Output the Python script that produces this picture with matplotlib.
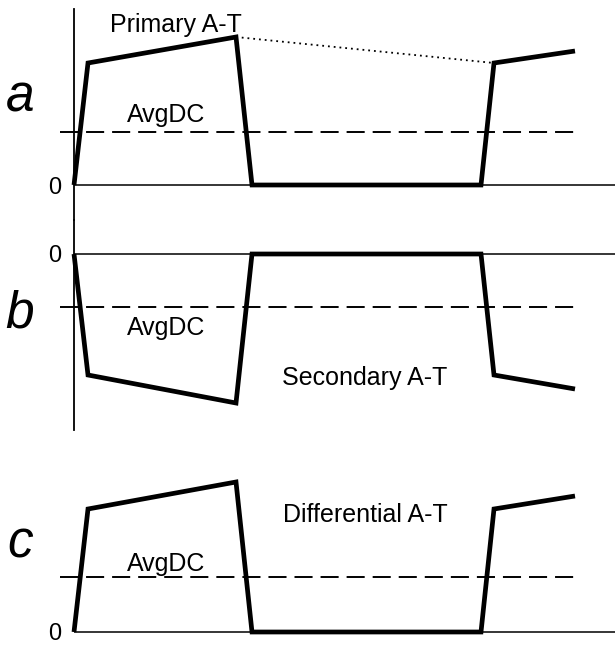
import matplotlib
matplotlib.use("Agg")
import matplotlib.pyplot as plt

plt.rcParams['font.family'] = ['Liberation Sans', 'DejaVu Sans']

# ---- data (arbitrary time units / amplitude units) ----
t = [0, 1.4, 16.2, 17.8, 40.7, 42.0, 50.1]
primary = [0, 1.22, 1.48, 0, 0, 1.22, 1.34]
secondary = [0, -1.21, -1.49, 0, 0, -1.21, -1.35]
differential = [0, 1.23, 1.50, 0, 0, 1.23, 1.36]
avg_primary = 0.53
avg_secondary = -0.53
avg_differential = 0.55
panel_labels = ['a', 'b', 'c']
trace_labels = ['Primary A-T', 'Secondary A-T', 'Differential A-T']
avg_label = 'AvgDC'

W, H = 615, 645
fig = plt.figure(figsize=(W / 100, H / 100), dpi=100)

left = 74 / W
width = (W - 74) / W

ax_a = fig.add_axes([left, (H - 220) / H, width, 211 / H])
ax_b = fig.add_axes([left, (H - 430) / H, width, 210 / H])
ax_c = fig.add_axes([left, 0, width, 205 / H])

ax_a.set_ylim(-0.35, 1.76)
ax_b.set_ylim(-1.76, 0.34)
ax_c.set_ylim(-0.13, 1.92)

thick = 3.4
thin = 1.1
dash_lw = 1.4
dash_style = (0, (9.3, 4.1))
FS = 18

series = [primary, secondary, differential]
avgs = [avg_primary, avg_secondary, avg_differential]
axes = [ax_a, ax_b, ax_c]

for ax, y, avg in zip(axes, series, avgs):
    ax.set_xlim(0, 54.1)
    for s in ['top', 'right', 'bottom']:
        ax.spines[s].set_visible(False)
    ax.spines['left'].set_linewidth(1.3)
    ax.set_xticks([])
    ax.set_yticks([0])
    ax.set_yticklabels(['0'], fontsize=17)
    ax.tick_params(axis='y', length=0, pad=9)
    ax.axhline(0, color='black', lw=thin, zorder=1)
    ax.plot(t, y, color='black', lw=thick, solid_joinstyle='miter',
            solid_capstyle='butt', zorder=3, clip_on=False)
    ax.plot([-1.4, t[-1]], [avg, avg], color='black', lw=dash_lw,
            linestyle=dash_style, zorder=2, clip_on=False)
    ax.patch.set_visible(False)

ax_c.spines['left'].set_visible(False)

# dotted envelope on primary
ax_a.plot([t[2], t[5]], [primary[2], primary[5]], color='black', lw=1.3,
          linestyle=(0, (1, 2.2)), zorder=2)

# texts
ax_a.text(10.2, 1.53, trace_labels[0], fontsize=FS, ha='center', va='baseline')
ax_b.text(29.1, -1.31, trace_labels[1], fontsize=FS, ha='center', va='baseline')
ax_c.text(29.1, 1.10, trace_labels[2], fontsize=FS, ha='center', va='baseline')

ax_a.text(9.2, 0.63, avg_label, fontsize=FS, ha='center', va='baseline')
ax_b.text(9.2, -0.81, avg_label, fontsize=FS, ha='center', va='baseline')
ax_c.text(9.2, 0.61, avg_label, fontsize=FS, ha='center', va='baseline')

label_y = [0.73, -0.74, 0.75]
for ax, lab, ly in zip(axes, panel_labels, label_y):
    ax.text(-5.4, ly, lab, fontsize=37, style='italic', ha='center',
            va='baseline', clip_on=False)

fig.savefig('out.png', dpi=100)
